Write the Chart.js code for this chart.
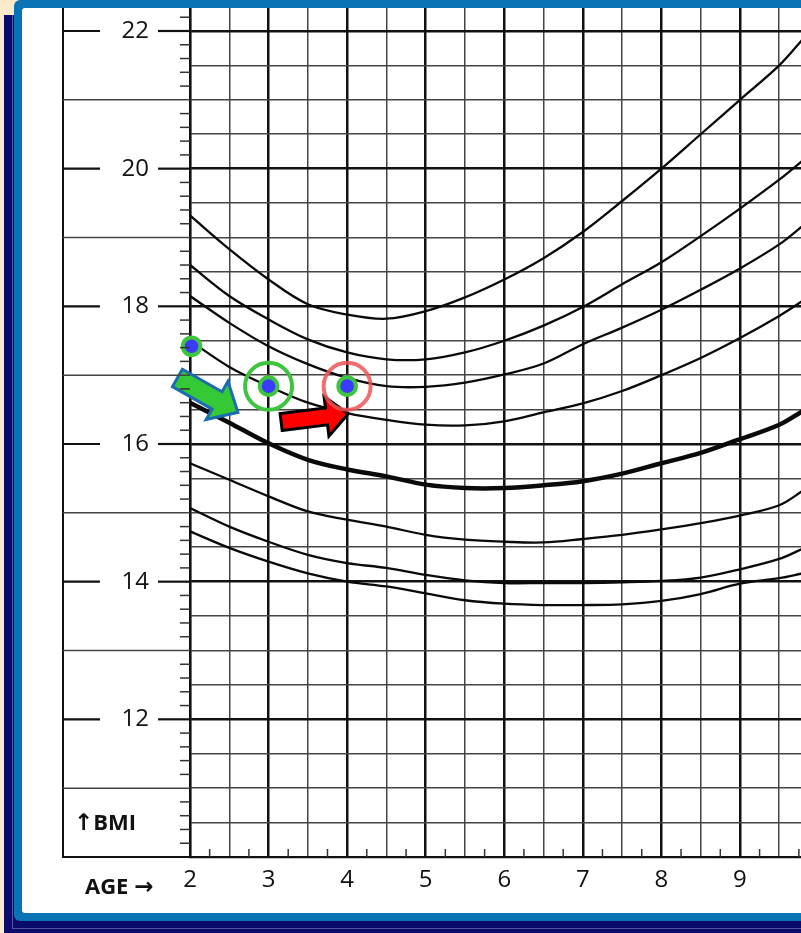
<!DOCTYPE html>
<html>
<head>
<meta charset="utf-8">
<script src="https://cdn.jsdelivr.net/npm/chart.js@4.4.1/dist/chart.umd.min.js"></script>
<style>
  html, body { margin: 0; padding: 0; width: 801px; height: 933px; overflow: hidden; background: #fcebcb; }
  #navy { position: absolute; left: 4px; top: 15px; width: 830px; height: 918px; background: #0b0b6c; }
  #navyLine { position: absolute; left: 8px; top: 0; width: 830px; height: 913px; border-left: 1px solid #5555a5; border-bottom: 1px solid #5555a5; }
  #blue { position: absolute; left: 14px; top: 0; width: 830px; height: 921px; background: #0a73b5; border-radius: 6px; }
  #panel { position: absolute; left: 22px; top: 8px; width: 779px; height: 905px; background: #fff; border-radius: 3px 0 0 3px; overflow: hidden; }
  #chart { position: absolute; left: 0; top: 0; }
  .lbl { position: absolute; font-family: "Open Sans", sans-serif; font-weight: 700; font-size: 22px; line-height: 22px; color: #111; white-space: nowrap; }
  .arr { font-family: "DejaVu Sans", sans-serif; font-weight: 700; font-size: 23px; }
</style>
</head>
<body>
<div id="navy"><div id="navyLine"></div></div>
<div id="blue"></div>
<div id="panel">
  <canvas id="chart" width="779" height="905"></canvas>
  <div class="lbl" style="left:52px; top:802px;"><span class="arr">↑</span>BMI</div>
  <div class="lbl" style="left:63px; top:866px;">AGE <span class="arr">→</span></div>
</div>
<script>
// 年龄 (岁) 与各百分位 BMI 曲线
const ages = [2, 2.5, 3, 3.5, 4, 4.5, 5, 5.5, 6, 6.5, 7, 7.5, 8, 8.5, 9, 9.5, 9.8];
const p95 = [19.32, 18.83, 18.39, 18.03, 17.88, 17.82, 17.93, 18.13, 18.39, 18.70, 19.08, 19.53, 20.00, 20.50, 21.00, 21.50, 21.88];
const p90 = [18.60, 18.15, 17.81, 17.52, 17.33, 17.23, 17.23, 17.33, 17.50, 17.72, 17.99, 18.32, 18.64, 19.02, 19.42, 19.84, 20.12];
const p85 = [18.15, 17.76, 17.42, 17.16, 16.96, 16.84, 16.83, 16.89, 17.01, 17.17, 17.45, 17.69, 17.95, 18.24, 18.55, 18.90, 19.17];
const p75 = [17.50, 17.12, 16.84, 16.60, 16.45, 16.35, 16.28, 16.27, 16.33, 16.46, 16.59, 16.77, 17.00, 17.25, 17.54, 17.86, 18.08];
const p50 = [16.60, 16.31, 16.01, 15.77, 15.63, 15.53, 15.41, 15.36, 15.36, 15.40, 15.46, 15.57, 15.72, 15.87, 16.07, 16.28, 16.48];
const p25 = [15.72, 15.48, 15.24, 15.02, 14.90, 14.80, 14.68, 14.61, 14.58, 14.57, 14.62, 14.68, 14.76, 14.85, 14.96, 15.11, 15.32];
const p10 = [15.07, 14.80, 14.58, 14.39, 14.27, 14.20, 14.10, 14.02, 13.98, 13.98, 13.98, 13.99, 14.01, 14.06, 14.18, 14.33, 14.48];
const p5  = [14.73, 14.49, 14.29, 14.12, 14.00, 13.93, 13.83, 13.73, 13.68, 13.66, 13.66, 13.67, 13.72, 13.82, 13.97, 14.05, 14.12];

// 孩子的测量点
const childAges = [2.02, 3, 4];
const childBmi = [17.42, 16.84, 16.84];
// 圈出的点
const ringAges = [3, 4];
const ringBmi = [16.84, 16.84];
// 箭头 [起点, 终点] (年龄, BMI)
const arrowGreen = [[1.84, 16.96], [2.61, 16.46]];
const arrowRed = [[3.16, 16.32], [4.015, 16.44]];

// 刻度
const bmiLabels = [12, 14, 16, 18, 20, 22];
const ageLabels = [2, 3, 4, 5, 6, 7, 8, 9];

const yGrid = [];
for (let v = 10; v <= 22; v += 0.5) yGrid.push(v);
const xGrid = [];
for (let a = 2; a <= 9.5; a += 0.5) xGrid.push(a);

const curves = [p95, p90, p85, p75, p50, p25, p10, p5];

function toPoints(xs, ys) {
    return xs.map((x, i) => ({ x: x, y: ys[i] }));
}

function drawArrow(ctx, tail, tip, shaftW, headW, headL, fill, stroke) {
    const dx = tip[0] - tail[0], dy = tip[1] - tail[1];
    const len = Math.hypot(dx, dy);
    const ux = dx / len, uy = dy / len;
    const nx = -uy, ny = ux;
    const bx = tip[0] - ux * headL, by = tip[1] - uy * headL;
    const pts = [
        [tail[0] + nx * shaftW / 2, tail[1] + ny * shaftW / 2],
        [bx + nx * shaftW / 2, by + ny * shaftW / 2],
        [bx + nx * headW / 2, by + ny * headW / 2],
        [tip[0], tip[1]],
        [bx - nx * headW / 2, by - ny * headW / 2],
        [bx - nx * shaftW / 2, by - ny * shaftW / 2],
        [tail[0] - nx * shaftW / 2, tail[1] - ny * shaftW / 2]
    ];
    ctx.beginPath();
    pts.forEach((p, i) => i ? ctx.lineTo(p[0], p[1]) : ctx.moveTo(p[0], p[1]));
    ctx.closePath();
    ctx.fillStyle = fill;
    ctx.fill();
    ctx.lineWidth = 3;
    ctx.lineJoin = 'miter';
    ctx.strokeStyle = stroke;
    ctx.stroke();
}

// 箭头画在圆圈之前
const arrowPlugin = {
    id: 'arrows',
    beforeDatasetDraw(chart, args) {
        if (chart.data.datasets[args.index].label !== 'rings') return;
        const { ctx, scales: { x, y } } = chart;
        const px = p => [x.getPixelForValue(p[0]), y.getPixelForValue(p[1])];
        ctx.save();
        drawArrow(ctx, px(arrowGreen[0]), px(arrowGreen[1]), 20, 44, 24, '#35c935', '#1c6cb2');
        drawArrow(ctx, px(arrowRed[0]), px(arrowRed[1]), 17, 40, 22, '#ff0000', '#000000');
        ctx.restore();
    }
};

// 左侧标签框、延长线与小刻度
const framePlugin = {
    id: 'frameLines',
    afterDraw(chart) {
        const { ctx, chartArea, scales: { x, y } } = chart;
        const boxLeft = 41;
        const seg = (x1, y1, x2, y2) => { ctx.beginPath(); ctx.moveTo(x1, y1); ctx.lineTo(x2, y2); ctx.stroke(); };
        ctx.save();
        ctx.strokeStyle = '#111';
        ctx.lineWidth = 2;
        seg(boxLeft, 0, boxLeft, chartArea.bottom + 1);
        seg(boxLeft, chartArea.bottom, chartArea.left, chartArea.bottom);
        for (let v = 11; v <= 22; v++) {
            const py = y.getPixelForValue(v);
            if (bmiLabels.includes(v)) {
                ctx.strokeStyle = '#111';
                ctx.lineWidth = 2.2;
                seg(boxLeft, py, 78, py);
                seg(136, py, chartArea.left, py);
            } else {
                ctx.strokeStyle = '#444';
                ctx.lineWidth = 1.5;
                seg(boxLeft, py, chartArea.left, py);
            }
        }
        ctx.strokeStyle = '#333';
        ctx.lineWidth = 1.5;
        for (let i = 51; i <= 111; i++) {
            if (i % 5 === 0) continue;
            const py = y.getPixelForValue(i / 5);
            seg(chartArea.left - 10, py, chartArea.left, py);
        }
        for (let a = 2.25; a < x.max; a += 0.5) {
            const qx = x.getPixelForValue(a);
            seg(qx, chartArea.bottom, qx, chartArea.bottom - 8);
        }
        ctx.restore();
    }
};

const datasets = curves.map((vals, i) => ({
    label: 'p' + i,
    data: toPoints(ages, vals),
    borderColor: '#0a0a0a',
    borderWidth: vals === p50 ? 4.5 : 2.3,
    pointRadius: 0,
    tension: 0.35,
    fill: false,
    order: 2
}));

datasets.push({
    label: 'rings',
    data: toPoints(ringAges, ringBmi),
    showLine: false,
    pointRadius: 23.5,
    pointBorderWidth: 4,
    pointBackgroundColor: 'rgba(0,0,0,0)',
    pointBorderColor: ['#3ec43e', 'rgba(240,85,85,0.85)'],
    clip: false,
    order: 1
});

datasets.push({
    label: 'child',
    data: toPoints(childAges, childBmi),
    showLine: false,
    pointRadius: 8.8,
    pointBorderWidth: 4,
    pointBackgroundColor: '#3b3bff',
    pointBorderColor: '#3ec43e',
    clip: false,
    order: 0
});

const tickFont = { family: '"Open Sans", sans-serif', size: 24 };

new Chart(document.getElementById('chart'), {
    type: 'line',
    data: { datasets: datasets },
    plugins: [arrowPlugin, framePlugin],
    options: {
        responsive: false,
        animation: false,
        layout: { padding: 0, autoPadding: false },
        plugins: { legend: { display: false }, tooltip: { enabled: false } },
        scales: {
            x: {
                type: 'linear',
                min: 2,
                max: 9.777,
                afterBuildTicks: s => { s.ticks = xGrid.map(v => ({ value: v })); },
                afterFit: s => { s.height = 56; s.paddingLeft = 0; s.paddingRight = 0; },
                ticks: {
                    autoSkip: false,
                    maxRotation: 0,
                    padding: 9,
                    color: '#111',
                    font: tickFont,
                    callback: v => ageLabels.includes(v) ? String(v) : ''
                },
                grid: {
                    drawTicks: false,
                    color: c => Number.isInteger(c.tick.value) ? '#111' : '#444',
                    lineWidth: c => Number.isInteger(c.tick.value) ? 2.5 : 1.5
                },
                border: { display: true, color: '#111', width: 2.2 }
            },
            y: {
                type: 'linear',
                min: 10,
                max: 22.334,
                afterBuildTicks: s => { s.ticks = yGrid.map(v => ({ value: v })); },
                afterFit: s => { s.width = 168; s.paddingTop = 0; s.paddingBottom = 0; },
                ticks: {
                    autoSkip: false,
                    padding: 41,
                    color: '#111',
                    font: tickFont,
                    callback: v => bmiLabels.includes(v) ? String(v) : ''
                },
                grid: {
                    drawTicks: false,
                    color: c => bmiLabels.includes(c.tick.value) ? '#111' : '#444',
                    lineWidth: c => bmiLabels.includes(c.tick.value) ? 2.5 : 1.5
                },
                border: { display: true, color: '#111', width: 2.2 }
            }
        }
    }
});
</script>
</body>
</html>
